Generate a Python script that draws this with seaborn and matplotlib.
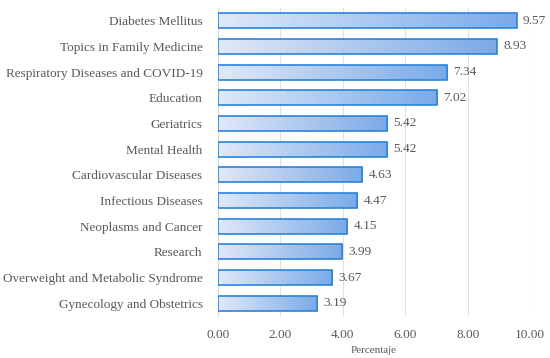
import matplotlib
matplotlib.use("Agg")
import matplotlib.pyplot as plt
import seaborn as sns
import numpy as np
import pandas as pd
from matplotlib.colors import LinearSegmentedColormap

# datos
temas = ['Diabetes Mellitus', 'Topics in Family Medicine', 'Respiratory Diseases and COVID-19',
         'Education', 'Geriatrics', 'Mental Health', 'Cardiovascular Diseases',
         'Infectious Diseases', 'Neoplasms and Cancer', 'Research',
         'Overweight and Metabolic Syndrome', 'Gynecology and Obstetrics']
porcentajes = [9.57, 8.93, 7.34, 7.02, 5.42, 5.42, 4.63, 4.47, 4.15, 3.99, 3.67, 3.19]
ticks_x = [0, 2, 4, 6, 8, 10]

df = pd.DataFrame({'tema': temas, 'pct': porcentajes})

sns.set_style('white')
plt.rcParams['font.family'] = ['Liberation Serif', 'DejaVu Serif']
gris = '#595959'

fig = plt.figure(figsize=(5.5, 3.58), dpi=100)
ax = fig.add_axes([0.396, 0.117, 0.568, 0.861])

sns.barplot(data=df, x='pct', y='tema', orient='h', width=0.58,
            color='#7EAEE8', ax=ax, zorder=3)

# Degradado por barra
cmap = LinearSegmentedColormap.from_list('grad', ['#E0E9F8', '#7AAAE8'])
grad = np.linspace(0, 1, 256).reshape(1, -1)
for p in ax.patches:
    x0, y0 = p.get_x(), p.get_y()
    w, h = p.get_width(), p.get_height()
    im = ax.imshow(grad, cmap=cmap, aspect='auto', extent=[x0, x0 + w, y0 + h, y0],
                   zorder=3, interpolation='bicubic')
    im.set_clip_path(p)
    p.set_facecolor('none')
    p.set_edgecolor('#2A84DA')
    p.set_linewidth(1.2)
    p.set_zorder(4)
    ax.text(x0 + w + 0.2, y0 + h / 2, f'{w:.2f}', va='center', ha='left',
            fontsize=9.6, color=gris)

ax.set_xlim(0, 10)
ax.set_ylim(len(temas) - 0.5, -0.5)
ax.set_xticks(ticks_x)
ax.set_xticklabels([f'{t:.2f}' for t in ticks_x])
ax.tick_params(axis='x', colors=gris, labelsize=9.6, length=0, pad=9)
ax.tick_params(axis='y', colors=gris, labelsize=9.5, length=0, pad=11)
ax.set_ylabel('')
ax.set_xlabel('Percentaje', fontsize=8, color=gris, labelpad=4)
ax.grid(axis='x', color='#E0E0E0', linewidth=0.8, zorder=0)
ax.set_axisbelow(True)
for s in ['top', 'right', 'bottom']:
    ax.spines[s].set_visible(False)
ax.spines['left'].set_color('#D9D9D9')

fig.savefig('out.png', dpi=100)
